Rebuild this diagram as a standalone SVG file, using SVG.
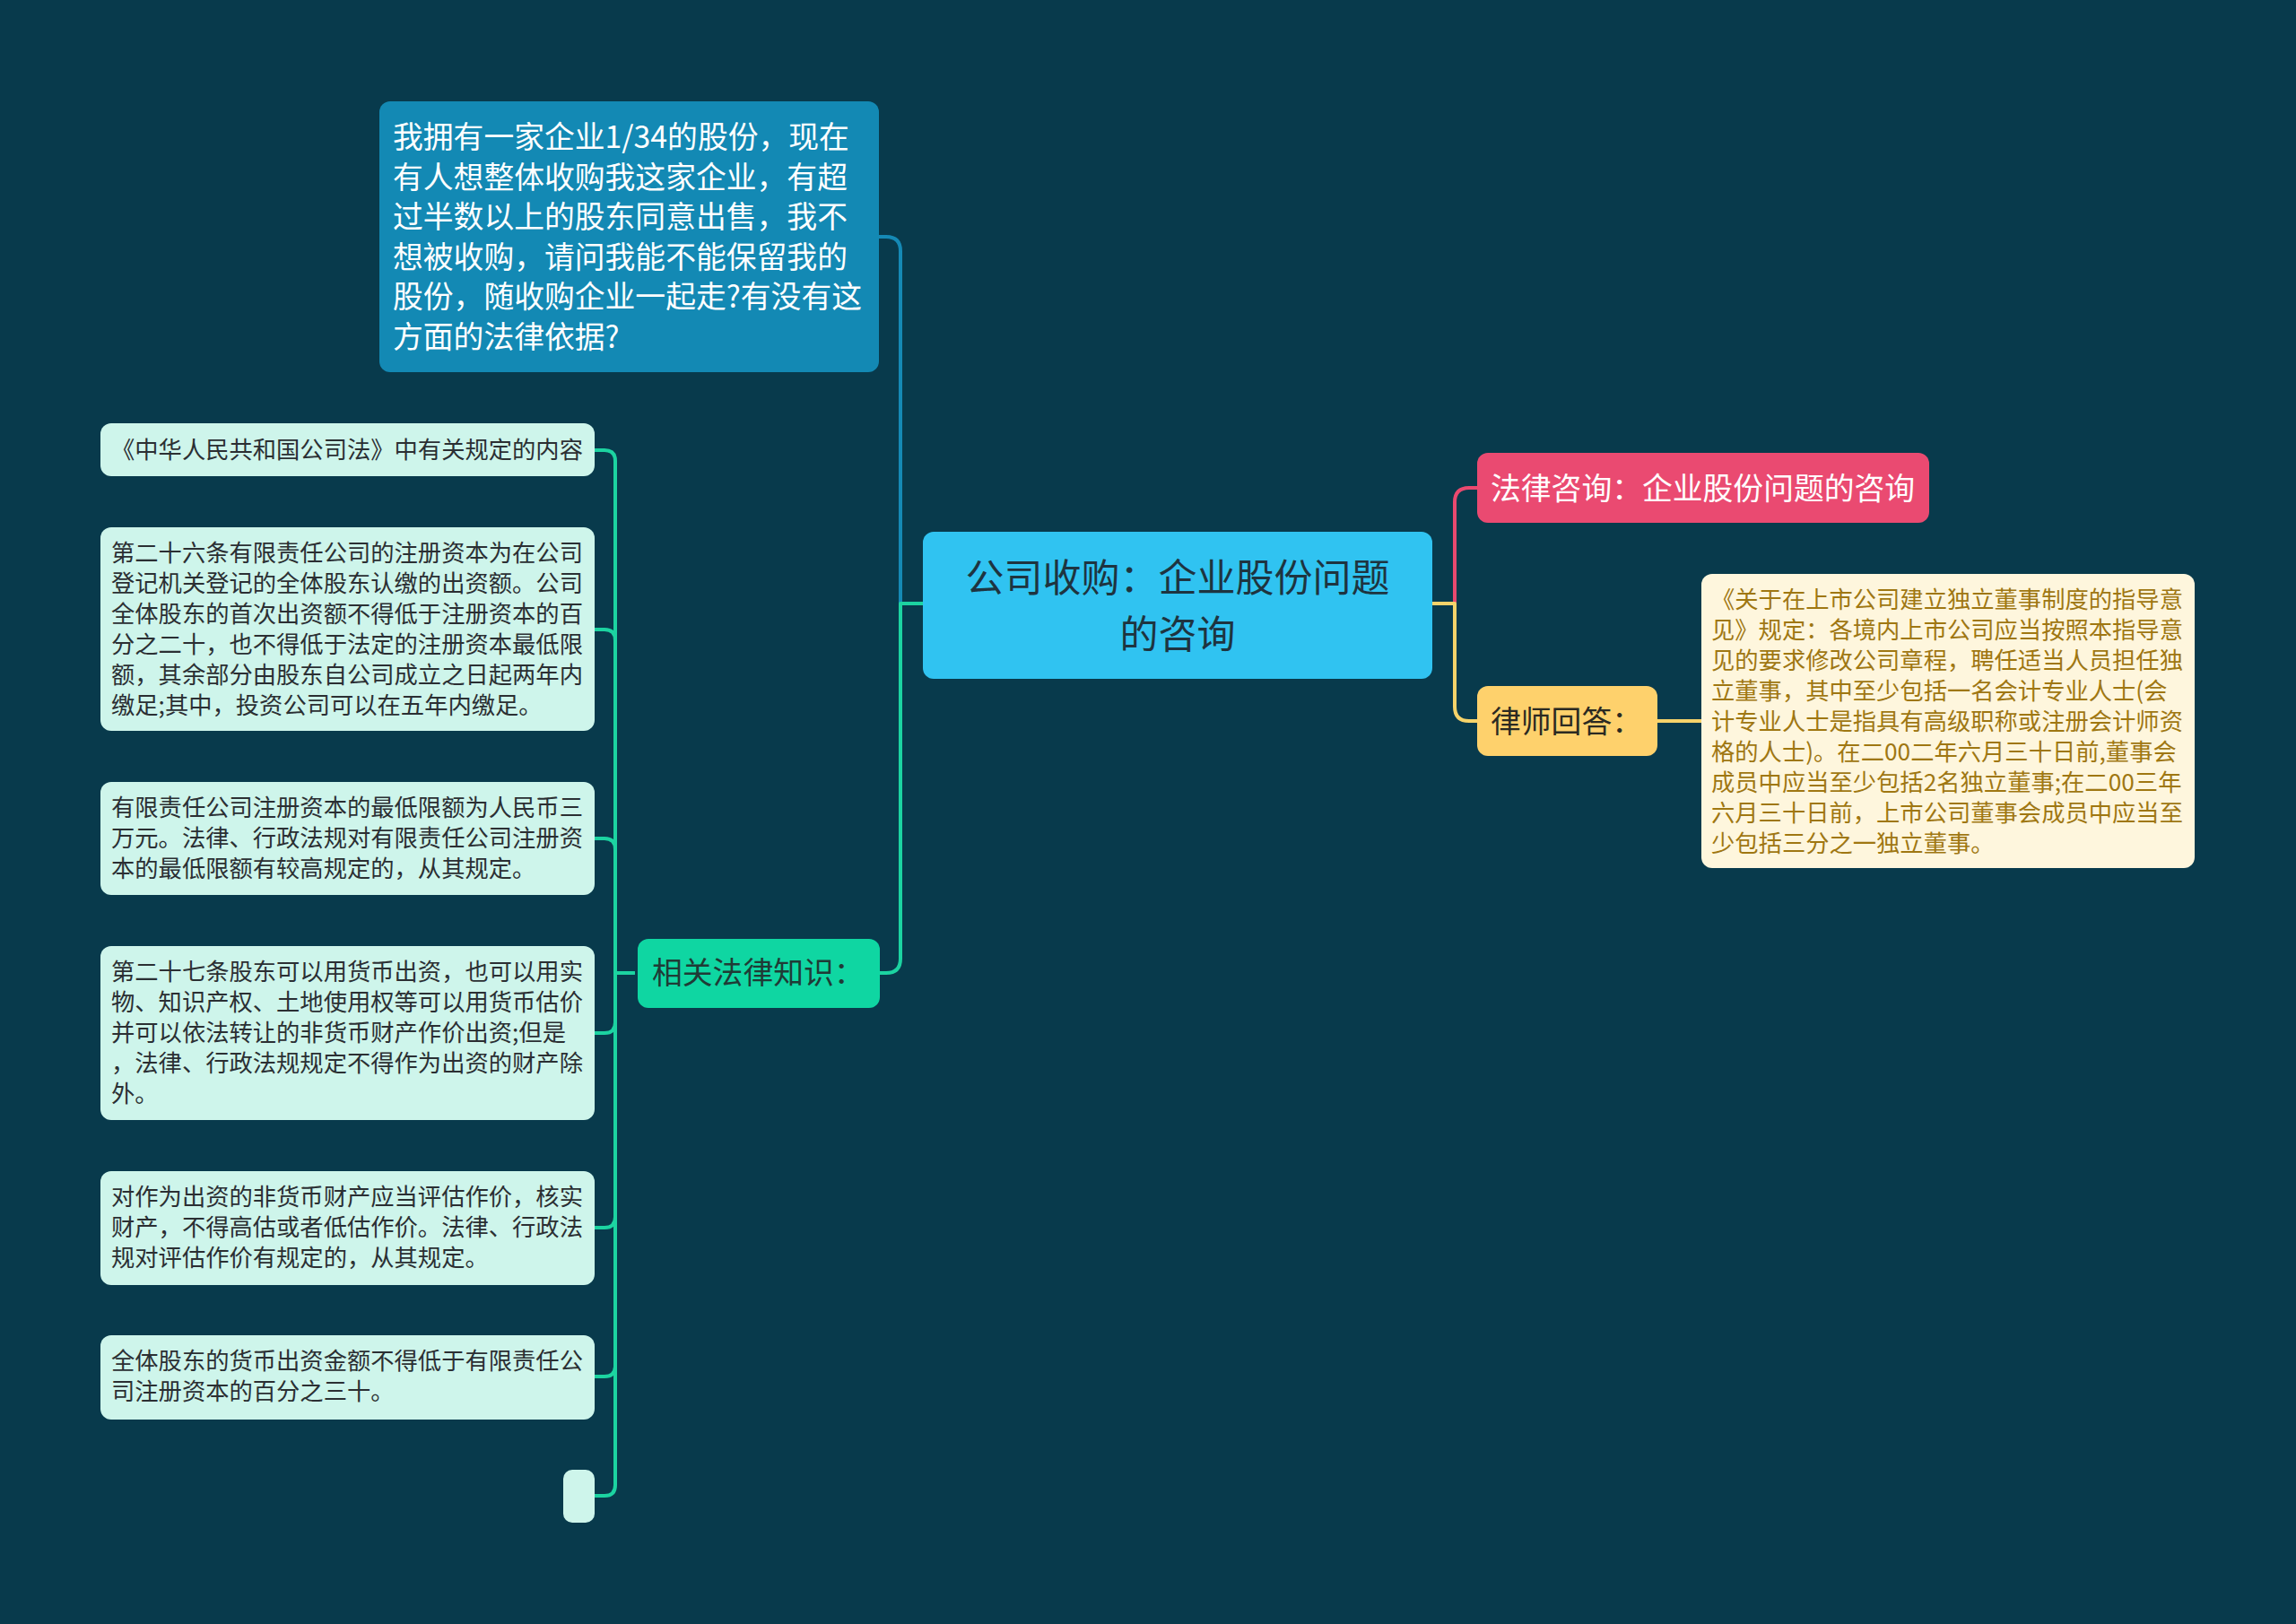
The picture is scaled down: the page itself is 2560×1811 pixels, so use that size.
<svg xmlns="http://www.w3.org/2000/svg" width="2560" height="1811" viewBox="0 0 2560 1811">
<style>
text{font-family:"Noto Sans CJK SC","Noto Sans",sans-serif;}
.c{fill:none;stroke-width:4;stroke-linecap:round;stroke-linejoin:round}
.g{stroke:#1cd3a1}
.b{stroke:#1589b5}
.p{stroke:#e9496f}
.y{stroke:#f6d36a}
.mint{fill:#cef5eb}
.t26{font-size:26.3px;fill:#2b2f33}
.ans{font-size:26.3px;fill:#9f7712}
.t34{font-size:33.8px}
</style>
<rect width="2560" height="1811" fill="#083a4c"/>
<g id="connectors">
<path class="c b" d="M1029,673 H1004 V280 Q1004,264 988,264 H980"/>
<path class="c g" d="M1029,673 H1004 V1069 Q1004,1085 988,1085 H981"/>
<path class="c g" d="M706,1085 H686 V514 Q686,502 674,502 H663"/>
<path class="c g" d="M706,1085 H686 V714 Q686,702 674,702 H663"/>
<path class="c g" d="M706,1085 H686 V947 Q686,935 674,935 H663"/>
<path class="c g" d="M706,1085 H686 V1140 Q686,1152 674,1152 H663"/>
<path class="c g" d="M706,1085 H686 V1357 Q686,1369 674,1369 H663"/>
<path class="c g" d="M706,1085 H686 V1523 Q686,1535 674,1535 H663"/>
<path class="c g" d="M706,1085 H686 V1656 Q686,1668 674,1668 H663"/>
<path class="c p" d="M1597,673 H1622 V560 Q1622,544 1638,544 H1647"/>
<path class="c y" d="M1597,673 H1622 V788 Q1622,804 1638,804 H1647"/>
<path class="c y" d="M1848,804 H1897"/>
</g>
<g id="root">
<rect x="1029" y="593" width="568" height="164" rx="12" fill="#30c3f1"/>
<text font-size="43" fill="#1e3440" text-anchor="middle"><tspan x="1313" y="660">公司收购：企业股份问题</tspan><tspan x="1313" y="723">的咨询</tspan></text>
</g>
<g id="question">
<rect x="423" y="113" width="557" height="302" rx="12" fill="#1389b4"/>
<g class="t34" fill="#ffffff">
<text x="438" y="165">我拥有一家企业1/34的股份，现在</text>
<text x="438" y="209.6">有人想整体收购我这家企业，有超</text>
<text x="438" y="254.2">过半数以上的股东同意出售，我不</text>
<text x="438" y="298.8">想被收购，请问我能不能保留我的</text>
<text x="438" y="343.4">股份，随收购企业一起走?有没有这</text>
<text x="438" y="388">方面的法律依据?</text>
</g>
</g>
<g id="knowledge">
<rect x="711" y="1047" width="270" height="77" rx="12" fill="#0fd6a2"/>
<text class="t34" x="727" y="1097" fill="#1f3b36">相关法律知识：</text>
</g>
<g id="law-title">
<rect class="mint" x="112" y="472" width="551" height="59" rx="12"/>
<text class="t26" x="124" y="511">《中华人民共和国公司法》中有关规定的内容</text>
</g>
<g id="art26">
<rect class="mint" x="112" y="588" width="551" height="227" rx="12"/>
<g class="t26">
<text x="124" y="626">第二十六条有限责任公司的注册资本为在公司</text>
<text x="124" y="660">登记机关登记的全体股东认缴的出资额。公司</text>
<text x="124" y="694">全体股东的首次出资额不得低于注册资本的百</text>
<text x="124" y="728">分之二十，也不得低于法定的注册资本最低限</text>
<text x="124" y="762">额，其余部分由股东自公司成立之日起两年内</text>
<text x="124" y="796">缴足;其中，投资公司可以在五年内缴足。</text>
</g>
</g>
<g id="min-capital">
<rect class="mint" x="112" y="872" width="551" height="126" rx="12"/>
<g class="t26">
<text x="124" y="910">有限责任公司注册资本的最低限额为人民币三</text>
<text x="124" y="944">万元。法律、行政法规对有限责任公司注册资</text>
<text x="124" y="978">本的最低限额有较高规定的，从其规定。</text>
</g>
</g>
<g id="art27">
<rect class="mint" x="112" y="1055" width="551" height="194" rx="12"/>
<g class="t26">
<text x="124" y="1093">第二十七条股东可以用货币出资，也可以用实</text>
<text x="124" y="1127">物、知识产权、土地使用权等可以用货币估价</text>
<text x="124" y="1161">并可以依法转让的非货币财产作价出资;但是</text>
<text x="124" y="1195">，法律、行政法规规定不得作为出资的财产除</text>
<text x="124" y="1229">外。</text>
</g>
</g>
<g id="valuation">
<rect class="mint" x="112" y="1306" width="551" height="127" rx="12"/>
<g class="t26">
<text x="124" y="1344">对作为出资的非货币财产应当评估作价，核实</text>
<text x="124" y="1378">财产，不得高估或者低估作价。法律、行政法</text>
<text x="124" y="1412">规对评估作价有规定的，从其规定。</text>
</g>
</g>
<g id="cash-ratio">
<rect class="mint" x="112" y="1489" width="551" height="94" rx="12"/>
<g class="t26">
<text x="124" y="1527">全体股东的货币出资金额不得低于有限责任公</text>
<text x="124" y="1561">司注册资本的百分之三十。</text>
</g>
</g>
<g id="empty">
<rect class="mint" x="628" y="1639" width="35" height="59" rx="10"/>
</g>
<g id="consult">
<rect x="1647" y="505" width="504" height="78" rx="12" fill="#ea4a71"/>
<text class="t34" x="1662" y="557" fill="#ffffff">法律咨询：企业股份问题的咨询</text>
</g>
<g id="lawyer">
<rect x="1647" y="765" width="201" height="78" rx="12" fill="#fed16c"/>
<text class="t34" x="1662" y="817" fill="#2b2a22">律师回答：</text>
</g>
<g id="answer">
<rect x="1897" y="640" width="550" height="328" rx="12" fill="#fef6dd"/>
<g class="ans">
<text x="1908" y="678">《关于在上市公司建立独立董事制度的指导意</text>
<text x="1908" y="712">见》规定：各境内上市公司应当按照本指导意</text>
<text x="1908" y="746">见的要求修改公司章程，聘任适当人员担任独</text>
<text x="1908" y="780">立董事，其中至少包括一名会计专业人士(会</text>
<text x="1908" y="814">计专业人士是指具有高级职称或注册会计师资</text>
<text x="1908" y="848">格的人士)。在二00二年六月三十日前,董事会</text>
<text x="1908" y="882">成员中应当至少包括2名独立董事;在二00三年</text>
<text x="1908" y="916">六月三十日前，上市公司董事会成员中应当至</text>
<text x="1908" y="950">少包括三分之一独立董事。</text>
</g>
</g>
</svg>
